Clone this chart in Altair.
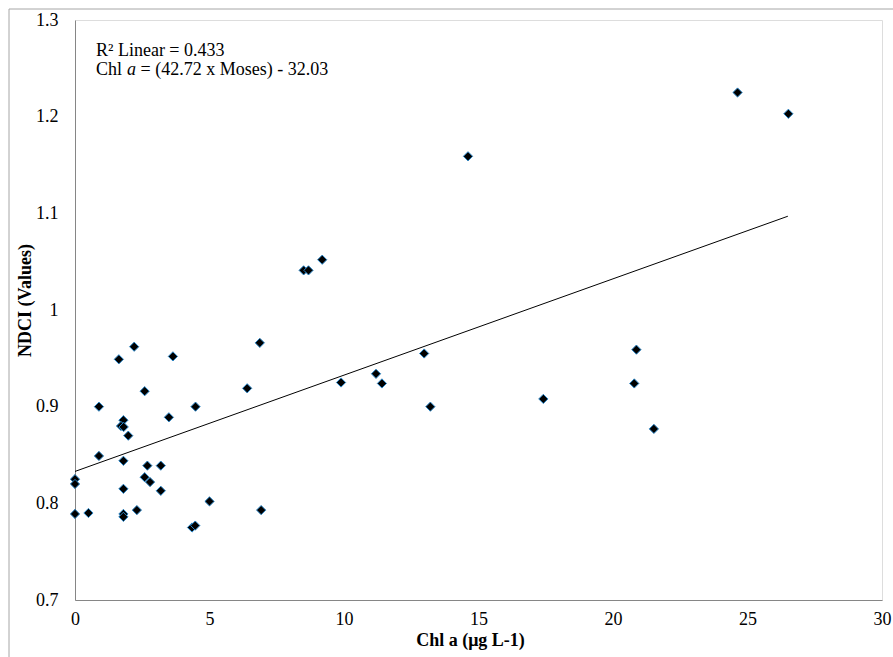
import altair as alt
import pandas as pd

# Scatter data
chl = [0, 0, 0, 0.50, 0.89, 0.89, 1.63, 1.80, 1.71, 1.81, 1.98, 1.80, 1.80, 1.80, 1.80,
       2.20, 2.30, 2.59, 2.59, 2.69, 2.79, 3.19, 3.19, 3.49, 3.64, 4.35, 4.47, 4.48, 5.00,
       6.40, 6.87, 6.92, 8.50, 8.68, 9.19, 9.89, 11.19, 11.41, 12.98, 13.21, 14.61, 17.41,
       20.79, 20.87, 21.52, 24.63, 26.52]
ndci = [0.825, 0.820, 0.789, 0.790, 0.900, 0.849, 0.949, 0.886, 0.880, 0.879, 0.870, 0.844,
        0.815, 0.789, 0.786, 0.962, 0.793, 0.916, 0.827, 0.839, 0.822, 0.839, 0.813, 0.889,
        0.952, 0.775, 0.777, 0.900, 0.802, 0.919, 0.966, 0.793, 1.041, 1.041, 1.052, 0.925,
        0.934, 0.924, 0.955, 0.900, 1.159, 0.908, 0.924, 0.959, 0.877, 1.225, 1.203]

# Fitted line endpoints
fit_x = [0, 26.5]
fit_y = [0.833, 1.097]

x_ticks = [0, 5, 10, 15, 20, 25, 30]
y_ticks = [0.7, 0.8, 0.9, 1.0, 1.1, 1.2, 1.3]

FONT = "Liberation Serif"

pts = pd.DataFrame({"chl": chl, "ndci": ndci})
fit = pd.DataFrame({"chl": fit_x, "ndci": fit_y})

xscale = alt.Scale(domain=[0, 30], nice=False, zero=False)
yscale = alt.Scale(domain=[0.7, 1.3], nice=False, zero=False)

xaxis = alt.Axis(values=x_ticks, title="Chl a (μg L-1)", grid=False, ticks=False,
                 labelPadding=10, labelFontSize=18, labelFont=FONT, labelColor="black",
                 titleFont=FONT, titleFontSize=18, titleFontWeight="bold", titleColor="black",
                 titleX=395, titleY=40, titleBaseline="middle", titleAlign="center",
                 domainColor="#868686", labelFlush=False)
yaxis = alt.Axis(values=y_ticks, title="NDCI (Values)", format=".1~f", grid=False, ticks=False,
                 labelPadding=17, labelFontSize=18, labelFont=FONT, labelColor="black",
                 titleFont=FONT, titleFontSize=18, titleFontWeight="bold", titleColor="black",
                 titleX=-50, titleY=280, titleAngle=270, titleBaseline="middle", titleAlign="center",
                 domainColor="#868686", labelFlush=False)

points = alt.Chart(pts).mark_point(shape="diamond", filled=True, size=85, fill="black",
                                   stroke="#2a86c8", strokeWidth=1, opacity=1).encode(
    x=alt.X("chl:Q", scale=xscale, axis=xaxis),
    y=alt.Y("ndci:Q", scale=yscale, axis=yaxis),
)

line = alt.Chart(fit).mark_line(color="black", strokeWidth=1).encode(
    x=alt.X("chl:Q", scale=xscale),
    y=alt.Y("ndci:Q", scale=yscale),
)

one = pd.DataFrame({"k": [0]})
def txt(s, x, y, style="normal"):
    return alt.Chart(one).mark_text(text=s, align="left", baseline="alphabetic", font=FONT,
                                    fontSize=18, fontStyle=style, color="black").encode(
        x=alt.value(x), y=alt.value(y))

ann = (txt("R² Linear = 0.433", 21, 36)
       + txt("Chl", 21, 55)
       + txt("a", 52, 55, "italic")
       + txt("= (42.72 x Moses) - 32.03", 65.5, 55))

border_top = alt.Chart(one).mark_rule(color="#a6a6a6", strokeWidth=1).encode(
    x=alt.value(-66), x2=alt.value(830), y=alt.value(-11))
border_left = alt.Chart(one).mark_rule(color="#a6a6a6", strokeWidth=1).encode(
    x=alt.value(-66), y=alt.value(-11), y2=alt.value(650))

chart = alt.layer(border_top, border_left, line, points, ann).properties(
    width=807, height=580,
    autosize=alt.AutoSizeParams(type="none"),
    padding={"left": 75, "top": 20, "right": 11, "bottom": 57},
).configure_view(stroke=None).configure(background="white")

chart.save("out.html", embed_options={"renderer": "svg", "actions": False})
